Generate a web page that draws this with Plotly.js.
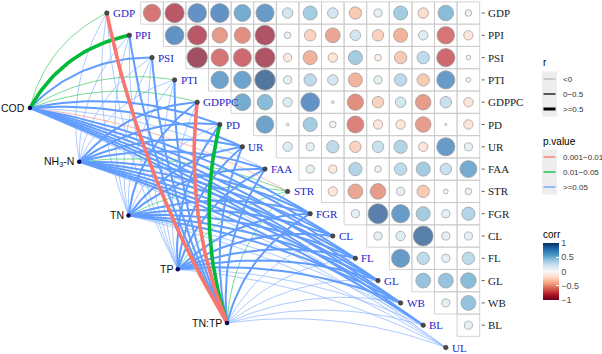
<!DOCTYPE html>
<html>
<head>
<meta charset="utf-8">
<script src="https://cdn.plot.ly/plotly-3.0.1.min.js"></script>
<style>html,body{margin:0;padding:0;background:#fff}</style>
</head>
<body>
<div id="chart" style="width:602px;height:354px"></div>
<script>
// variables on the diagonal, and the water quality factors on the left
var varNames = ['GDP','PPI','PSI','PTI','GDPPC','PD','UR','FAA','STR','FGR','CL','FL','GL','WB','BL','UL'];
var envNames = ['COD','NH<sub>3</sub>-N','TN','TP','TN:TP'];

// correlation matrix, upper triangle, each row against the following variables
var corrGDP   = [-0.7, -0.85, 0.8, 0.8, 0.65, 0.75, 0.25, 0.45, 0.25, -0.35, 0.15, 0.45, -0.25, 0.55, 0.1];
var corrPPI   = [0.8, -0.85, -0.55, -0.6, -0.9, 0.1, -0.3, -0.5, 0.25, -0.3, -0.45, 0.2, -0.7, -0.2];
var corrPSI   = [-0.95, -0.7, -0.75, -0.9, -0.15, -0.45, -0.2, 0.45, -0.1, -0.35, 0.35, -0.75, 0.05];
var corrPTI   = [0.7, 0.7, 0.95, 0.15, 0.35, 0.25, -0.45, 0.15, 0.35, -0.35, 0.75, 0.05];
var corrGDPPC = [0.65, 0.55, 0.2, 0.8, 0.02, -0.6, -0.3, 0.25, -0.55, 0.3, -0.2];
var corrPD    = [0.7, 0.02, 0.45, 0.1, -0.65, -0.2, -0.2, -0.55, 0.01, -0.2];
var corrUR    = [0.2, 0.15, 0.35, -0.3, 0.3, 0.4, -0.2, 0.75, 0.15];
var corrFAA   = [0.15, -0.15, 0.4, 0.1, 0.35, 0.45, 0.3, 0.65];
var corrSTR   = [-0.2, -0.5, -0.55, 0.15, -0.35, 0.05, 0.1];
var corrFGR   = [0.15, 0.9, 0.75, 0.45, 0.15, 0.4];
var corrCL    = [0.15, 0.2, 0.9, 0.15, 0.15];
var corrFL    = [0.75, 0.35, 0.15, 0.35];
var corrGL    = [0.5, 0.5, 0.55];
var corrWB    = [0.15, 0.5];
var corrBL    = [0.15];
var corrRows = [corrGDP, corrPPI, corrPSI, corrPTI, corrGDPPC, corrPD, corrUR, corrFAA,
                corrSTR, corrFGR, corrCL, corrFL, corrGL, corrWB, corrBL];

// mantel test of each factor against the 16 variables (r and p)
var mantelR_COD  = [-0.02, 0.52, 0.15, -0.04, -0.03, 0.12, 0.10, -0.05, -0.06, 0.09, 0.11, 0.14, 0.16, 0.10, 0.08, -0.02];
var mantelP_COD  = [0.03, 0.02, 0.11, 0.04, 0.04, 0.15, 0.20, 0.60, 0.008, 0.30, 0.25, 0.18, 0.12, 0.30, 0.35, 0.70];
var mantelR_NH3  = [-0.05, -0.03, -0.04, -0.02, 0.12, 0.08, 0.10, 0.06, -0.03, 0.11, 0.09, 0.13, 0.18, 0.12, 0.07, -0.04];
var mantelP_NH3  = [0.70, 0.60, 0.65, 0.55, 0.20, 0.30, 0.25, 0.40, 0.045, 0.20, 0.30, 0.15, 0.10, 0.20, 0.35, 0.80];
var mantelR_TN   = [-0.04, -0.05, -0.03, -0.06, 0.10, -0.02, 0.09, 0.07, -0.02, 0.12, 0.08, 0.11, 0.15, 0.10, -0.03, -0.05];
var mantelP_TN   = [0.60, 0.70, 0.55, 0.80, 0.25, 0.50, 0.30, 0.35, 0.03, 0.20, 0.30, 0.20, 0.10, 0.25, 0.60, 0.75];
var mantelR_TP   = [-0.06, -0.04, -0.05, -0.03, -0.02, 0.08, 0.06, 0.05, -0.04, 0.09, 0.10, 0.12, 0.14, 0.08, -0.02, -0.06];
var mantelP_TP   = [0.80, 0.65, 0.70, 0.60, 0.55, 0.30, 0.35, 0.40, 0.04, 0.25, 0.20, 0.15, 0.12, 0.30, 0.55, 0.85];
var mantelR_TNTP = [0.55, 0.14, 0.12, 0.10, 0.56, 0.58, 0.09, 0.08, -0.03, 0.10, -0.02, -0.03, -0.04, -0.05, -0.03, -0.06];
var mantelP_TNTP = [0.004, 0.15, 0.20, 0.25, 0.006, 0.02, 0.30, 0.35, 0.04, 0.25, 0.50, 0.55, 0.60, 0.65, 0.70, 0.75];
var mantelR = [mantelR_COD, mantelR_NH3, mantelR_TN, mantelR_TP, mantelR_TNTP];
var mantelP = [mantelP_COD, mantelP_NH3, mantelP_TN, mantelP_TP, mantelP_TNTP];

// legend labels
var rLabels = ['<0', '0\u22120.5', '>=0.5'];
var pLabels = ['0.001\u22120.01', '0.01\u22120.05', '>=0.05'];

// ---- styles ----
var pColors = ['#F8766D', '#00BA38', '#619CFF'];
var rWidths = [0.7, 2, 3.6];
var serif = 'Liberation Serif, Times New Roman, serif';
var sans = 'Liberation Sans, Arial, sans-serif';
var corrScale = [[0,'#67001F'],[0.1,'#B2182B'],[0.2,'#D6604D'],[0.3,'#F4A582'],[0.4,'#FDDBC7'],
                 [0.5,'#F7F7F7'],[0.6,'#D1E5F0'],[0.7,'#92C5DE'],[0.8,'#4393C3'],[0.9,'#2166AC'],[1,'#053061']];

// figure in cell units: 1 unit = one matrix cell
var W = 602, H = 354, cellW = 22.6, cellH = 22.3, x0px = 152, y0px = 13;
function px(x) { return x / W; }
function py(y) { return 1 - y / H; }

// node positions
var varX = varNames.map(function (d, k) { return k - 2; });
var varY = varNames.map(function (d, k) { return k; });
var envX = envNames.map(function (d, i) { return -5.4 + 2.18 * i; });
var envY = envNames.map(function (d, i) { return 4.26 + 2.41 * i; });

function rClass(r) { return r < 0 ? 0 : (r < 0.5 ? 1 : 2); }
function pClass(p) { return p < 0.01 ? 0 : (p < 0.05 ? 1 : 2); }

// bent link, the bend is about the same size for short and long links
var bend = 1.25;
function curve(xa, ya, xb, yb) {
  var mx = (xa + xb) / 2, my = (ya + yb) / 2, dx = xb - xa, dy = yb - ya;
  var len = Math.sqrt(dx * dx + dy * dy);
  var cx = mx + bend * dy / len, cy = my - bend * dx / len;
  var xs = [], ys = [];
  for (var s = 0; s <= 24; s++) {
    var t = s / 24, u = 1 - t;
    xs.push(u * u * xa + 2 * u * t * cx + t * t * xb);
    ys.push(u * u * ya + 2 * u * t * cy + t * t * yb);
  }
  return [xs, ys];
}

// group edges by style
var groups = {};
for (var e = 0; e < envNames.length; e++) {
  for (var v = 0; v < varNames.length; v++) {
    var key = rClass(mantelR[e][v]) + '_' + pClass(mantelP[e][v]);
    if (!groups[key]) groups[key] = {x: [], y: []};
    var c = curve(envX[e], envY[e], varX[v], varY[v]);
    groups[key].x = groups[key].x.concat(c[0], [null]);
    groups[key].y = groups[key].y.concat(c[1], [null]);
  }
}
var keys = Object.keys(groups).sort(function (a, b) {
  var ra = +a[0], rb = +b[0], pa = +a[2], pb = +b[2];
  return ra - rb || pb - pa;
});
var traces = keys.map(function (k) {
  var rc = +k[0], pc = +k[2];
  return {
    x: groups[k].x, y: groups[k].y, mode: 'lines', hoverinfo: 'skip',
    line: {color: pColors[pc], width: rWidths[rc]},
    opacity: rc === 0 ? 0.75 : 1
  };
});

// correlation circles
var cx = [], cy = [], cv = [], cs = [];
var shapes = [];
corrRows.forEach(function (row, i) {
  row.forEach(function (val, n) {
    var col = i + n;
    cx.push(col); cy.push(i); cv.push(val);
    cs.push(21 * Math.sqrt(Math.abs(val)));
    shapes.push({type: 'rect', xref: 'x', yref: 'y', x0: col - 0.5, x1: col + 0.5, y0: i - 0.5, y1: i + 0.5,
                 line: {color: '#c8c8c8', width: 0.8}, layer: 'below'});
  });
});

traces.push({
  x: cx, y: cy, mode: 'markers', hoverinfo: 'skip',
  marker: {
    size: cs, color: cv, cmin: -1, cmax: 1, colorscale: corrScale,
    line: {color: '#6e6e6e', width: 0.7},
    showscale: true,
    colorbar: {
      x: px(543), xanchor: 'left', y: py(227), yanchor: 'top', len: 73 / H, lenmode: 'fraction',
      thickness: 16, outlinewidth: 0, xpad: 0, ypad: 0,
      ticks: 'inside', ticklen: 3, tickcolor: '#ffffff',
      tickvals: [-1, -0.5, 0, 0.5, 1], ticktext: ['\u22121', '\u22120.5', '0', '0.5', '1'],
      tickfont: {family: sans, size: 9, color: '#4d4d4d'},
      title: {text: 'corr', side: 'top', font: {family: sans, size: 10, color: '#000'}}
    }
  }
});

// nodes
traces.push({x: varX, y: varY, mode: 'markers', hoverinfo: 'skip',
  marker: {size: 4.5, color: '#4a4a4a', line: {color: '#222', width: 0.5}}});
traces.push({x: envX, y: envY, mode: 'markers', hoverinfo: 'skip',
  marker: {size: 4.5, color: '#0a0a5a'}});

var annotations = [];
varNames.forEach(function (n, k) {
  annotations.push({x: varX[k], y: varY[k], text: n, showarrow: false, xanchor: 'left', xshift: 4,
    font: {family: serif, size: 11, color: '#2323c8'}});
});
envNames.forEach(function (n, i) {
  annotations.push({x: envX[i], y: envY[i], text: n, showarrow: false, xanchor: 'right', xshift: -3,
    font: {family: sans, size: 10.5, color: '#111'}});
});
// row labels on the right of the matrix
varNames.slice(0, 15).forEach(function (n, i) {
  annotations.push({x: 14.5, y: i, text: n, showarrow: false, xanchor: 'left', xshift: 6,
    font: {family: serif, size: 11, color: '#1a1a1a'}});
  shapes.push({type: 'line', xref: 'x', yref: 'y', x0: 14.5 + 2 / cellW, x1: 14.5 + 5 / cellW, y0: i, y1: i,
    line: {color: '#333', width: 0.8}});
});

// manual legends for r and p.value
function legendBlock(title, top, labels, colors, widths) {
  annotations.push({xref: 'paper', yref: 'paper', x: px(541), y: py(top), text: title, showarrow: false,
    xanchor: 'left', yanchor: 'middle', font: {family: sans, size: 10, color: '#000'}});
  shapes.push({type: 'rect', xref: 'paper', yref: 'paper', x0: px(542), x1: px(557),
    y0: py(top + 8.5), y1: py(top + 8.5 + 15 * labels.length), fillcolor: '#ededed', line: {width: 0}});
  labels.forEach(function (lab, j) {
    var yy = top + 16 + 15 * j;
    shapes.push({type: 'line', xref: 'paper', yref: 'paper', x0: px(543.5), x1: px(555.5), y0: py(yy), y1: py(yy),
      line: {color: colors[j], width: widths[j]}});
    annotations.push({xref: 'paper', yref: 'paper', x: px(561), y: py(yy), text: lab, showarrow: false,
      xanchor: 'left', yanchor: 'middle', font: {family: sans, size: 8, color: '#333'}});
  });
}
legendBlock('r', 63, rLabels, ['#a6a6a6', '#333333', '#000000'], [1, 1.6, 3]);
legendBlock('p.value', 141, pLabels, pColors, [1.3, 1.3, 1.3]);

var layout = {
  width: W, height: H, margin: {l: 0, r: 0, t: 0, b: 0},
  paper_bgcolor: '#fff', plot_bgcolor: '#fff', showlegend: false,
  xaxis: {range: [-x0px / cellW, (W - x0px) / cellW], visible: false},
  yaxis: {range: [(H - y0px) / cellH, -y0px / cellH], visible: false},
  shapes: shapes, annotations: annotations
};

Plotly.newPlot('chart', traces, layout, {displayModeBar: false, staticPlot: true});
</script>
</body>
</html>
